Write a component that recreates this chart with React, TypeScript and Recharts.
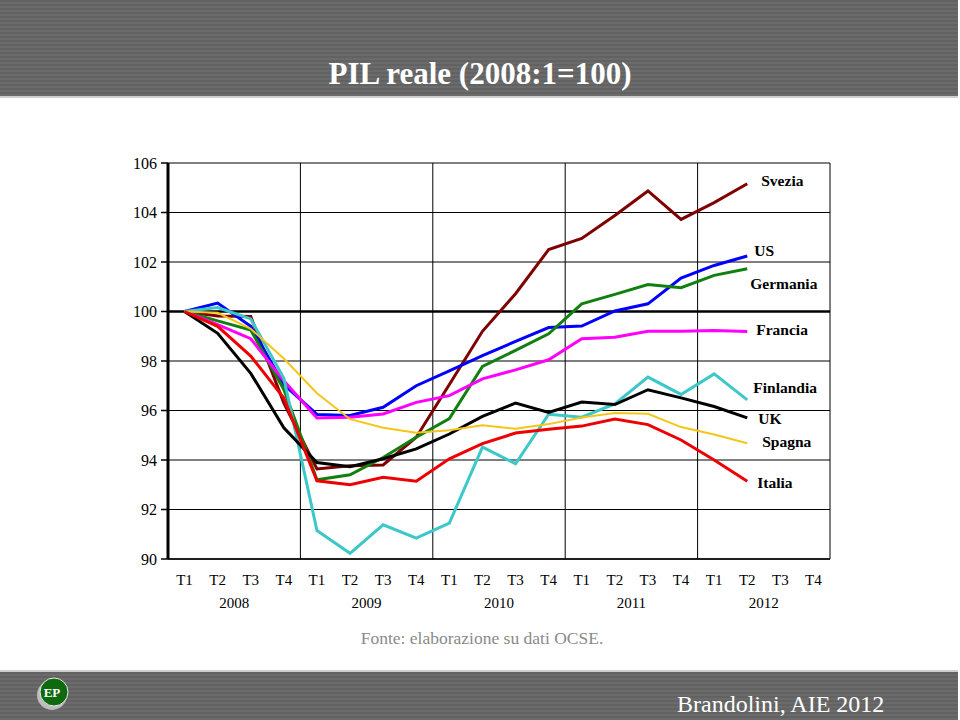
import React from "react";
import { LineChart, Line, XAxis, YAxis, CartesianGrid, ReferenceLine } from "recharts";

const quarters = [
  "T1", "T2", "T3", "T4", "T1", "T2", "T3", "T4", "T1", "T2",
  "T3", "T4", "T1", "T2", "T3", "T4", "T1", "T2", "T3", "T4",
];
const years = ["2008", "2009", "2010", "2011", "2012"];
const yTicks = [90, 92, 94, 96, 98, 100, 102, 104, 106];

// indice PIL reale, 2008:T1 = 100 (fino a 2012:T2)
const svezia = [100, 99.82, 99.8, 96.3, 93.64, 93.77, 93.8, 94.92, 97.05, 99.2, 100.72, 102.5, 102.95, 103.88, 104.87, 103.72, 104.4, 105.16];
const us = [100, 100.34, 99.4, 97.05, 95.84, 95.8, 96.13, 97.0, 97.6, 98.22, 98.79, 99.35, 99.41, 100.02, 100.31, 101.35, 101.86, 102.24];
const germania = [100, 99.62, 99.25, 96.85, 93.2, 93.4, 94.1, 94.92, 95.67, 97.78, 98.43, 99.1, 100.31, 100.69, 101.09, 100.96, 101.46, 101.73];
const francia = [100, 99.47, 98.9, 97.2, 95.7, 95.73, 95.86, 96.33, 96.6, 97.28, 97.64, 98.05, 98.9, 98.96, 99.2, 99.2, 99.23, 99.19];
const finlandia = [100, 100.16, 99.7, 97.3, 91.15, 90.23, 91.38, 90.84, 91.45, 94.52, 93.85, 95.85, 95.73, 96.27, 97.35, 96.65, 97.48, 96.43];
const uk = [100, 99.12, 97.5, 95.3, 93.9, 93.73, 94.05, 94.45, 95.05, 95.76, 96.3, 95.92, 96.34, 96.24, 96.84, 96.51, 96.16, 95.7];
const spagna = [100, 99.95, 99.3, 98.1, 96.7, 95.65, 95.3, 95.1, 95.2, 95.4, 95.26, 95.45, 95.72, 95.9, 95.87, 95.33, 95.03, 94.68];
const italia = [100, 99.4, 98.2, 96.5, 93.16, 93.0, 93.3, 93.14, 94.05, 94.66, 95.09, 95.24, 95.37, 95.66, 95.43, 94.81, 94.0, 93.14];

const series = [
  { name: "Svezia", values: svezia, color: "#7f0000", width: 3, dx: 14, dy: -3.5 },
  { name: "US", values: us, color: "#0000ff", width: 3, dx: 7, dy: -6 },
  { name: "Germania", values: germania, color: "#118011", width: 3, dx: 3, dy: 14.5 },
  { name: "Francia", values: francia, color: "#ff00ff", width: 3, dx: 9, dy: -2.5 },
  { name: "Finlandia", values: finlandia, color: "#3cc8c8", width: 3, dx: 6, dy: -12 },
  { name: "UK", values: uk, color: "#000000", width: 3, dx: 11, dy: 1 },
  { name: "Spagna", values: spagna, color: "#f5c518", width: 2, dx: 15, dy: -1.5 },
  { name: "Italia", values: italia, color: "#ee0000", width: 3, dx: 10, dy: 1 },
];

const data = quarters.map((q, i) => {
  const row: Record<string, string | number> = { q, year: years[Math.floor(i / 4)] };
  series.forEach((s) => {
    if (i < s.values.length) row[s.name] = s.values[i];
  });
  return row;
});

const FONT = "'Liberation Serif', 'Times New Roman', serif";
const PLOT_LEFT = 168;
const PLOT_RIGHT = 830;
const BAND = (PLOT_RIGHT - PLOT_LEFT) / quarters.length;

function QuarterTick(props: any) {
  const { x, y, payload, index } = props;
  return (
    <g>
      <text x={x} y={y + 18} textAnchor="middle" fontFamily={FONT} fontSize={15} fill="#000">
        {payload.value}
      </text>
      {index % 4 === 1 && (
        <text x={x + BAND / 2} y={y + 41} textAnchor="middle" fontFamily={FONT} fontSize={15} fill="#000">
          {years[Math.floor(index / 4)]}
        </text>
      )}
    </g>
  );
}

const endLabel = (s: (typeof series)[number]) => (p: any) => {
  if (p.index !== s.values.length - 1) return <g />;
  return (
    <text
      x={p.x + s.dx}
      y={p.y + s.dy}
      dominantBaseline="central"
      fontFamily={FONT}
      fontWeight="bold"
      fontSize={15.5}
      fill="#000"
    >
      {s.name}
    </text>
  );
};

function Logo() {
  return (
    <svg width={40} height={40} style={{ position: "absolute", left: 33, top: 674 }}>
      <circle cx={19} cy={21} r={15} fill="#bdbdbd" />
      <circle cx={21} cy={18} r={14} fill="#0f6a0f" stroke="#e8e8e8" strokeWidth={1} />
      <text x={19} y={23} textAnchor="middle" fontFamily={FONT} fontWeight="bold" fontSize={13} fill="#fff">
        EP
      </text>
    </svg>
  );
}

const band: React.CSSProperties = {
  position: "absolute",
  left: 0,
  width: 958,
  background: "repeating-linear-gradient(180deg, #626262 0px, #626262 2px, #6b6b6b 2px, #6b6b6b 4px)",
};

export default function App() {
  return (
    <div style={{ position: "absolute", left: 0, top: 0, width: 960, height: 720, background: "#fff", overflow: "hidden" }}>
      <div style={{ ...band, top: 0, height: 96, borderBottom: "2px solid #cfcfcf" }} />
      <div
        style={{
          position: "absolute",
          left: 0,
          width: 960,
          top: 54,
          textAlign: "center",
          color: "#fff",
          fontFamily: FONT,
          fontWeight: "bold",
          fontSize: 31,
          lineHeight: "40px",
        }}
      >
        PIL reale (2008:1=100)
      </div>

      <div style={{ position: "absolute", left: 0, top: 0 }}>
        <LineChart width={960} height={720} data={data} margin={{ top: 163, right: 130, bottom: 111, left: 108 }}>
          <CartesianGrid
            stroke="#000"
            strokeWidth={1}
            horizontal
            verticalCoordinatesGenerator={({ offset }: any) =>
              [1, 2, 3, 4, 5].map((k) => offset.left + (k * offset.width) / 5)
            }
          />
          <ReferenceLine y={100} stroke="#000" strokeWidth={2.5} />
          <XAxis
            dataKey="q"
            padding={{ left: BAND / 2, right: BAND / 2 }}
            height={50}
            tickLine={false}
            axisLine={{ stroke: "#000", strokeWidth: 1.5 }}
            interval={0}
            tick={<QuarterTick />}
          />
          <YAxis
            width={60}
            domain={[90, 106]}
            ticks={yTicks}
            tickSize={7}
            tickMargin={4}
            axisLine={{ stroke: "#000", strokeWidth: 3 }}
            tickLine={{ stroke: "#000", strokeWidth: 1.5 }}
            tick={{ fontFamily: FONT, fontSize: 16, fill: "#000" }}
          />
          {series.map((s) => (
            <Line
              key={s.name}
              dataKey={s.name}
              type="linear"
              stroke={s.color}
              strokeWidth={s.width}
              dot={false}
              activeDot={false}
              isAnimationActive={false}
              label={endLabel(s)}
            />
          ))}
        </LineChart>
      </div>

      <div
        style={{
          position: "absolute",
          left: 0,
          width: 960,
          top: 626,
          textAlign: "center",
          color: "#8a8a8a",
          fontFamily: FONT,
          fontSize: 17.5,
          lineHeight: "24px",
          paddingLeft: 2,
        }}
      >
        Fonte: elaborazione su dati OCSE.
      </div>

      <div style={{ ...band, top: 670, height: 48, borderTop: "2px solid #cfcfcf" }} />
      <Logo />
      <div
        style={{
          position: "absolute",
          left: 677,
          top: 689,
          color: "#fff",
          fontFamily: FONT,
          fontSize: 24,
          lineHeight: "30px",
          whiteSpace: "nowrap",
        }}
      >
        Brandolini, AIE 2012
      </div>
    </div>
  );
}
